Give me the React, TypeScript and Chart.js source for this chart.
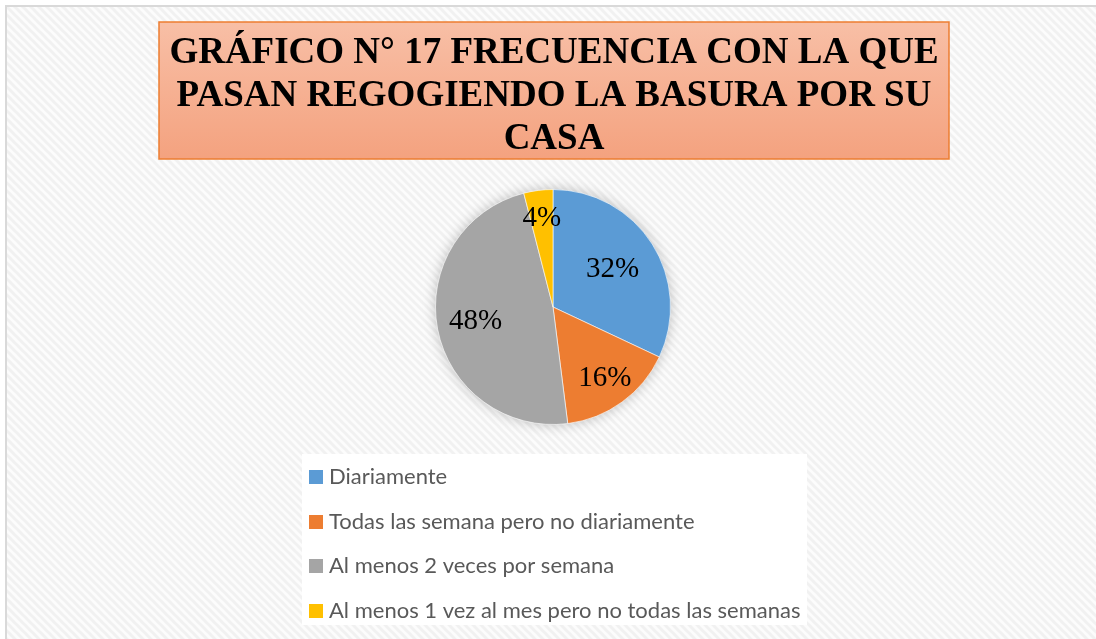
import React, { useEffect, useRef } from "react";
import { Chart, registerables } from "chart.js";

Chart.register(...registerables);

const categories = [
  "Diariamente",
  "Todas las semana pero no diariamente",
  "Al menos 2 veces por semana",
  "Al menos 1 vez al mes pero no todas las semanas",
];
const percentages = [32, 16, 48, 4];
const sliceColors = ["#5B9BD5", "#ED7D31", "#A5A5A5", "#FFC000"];
const titleLines = [
  "GRÁFICO N° 17 FRECUENCIA CON LA QUE",
  "PASAN REGOGIENDO LA BASURA POR SU",
  "CASA",
];
// style: radial position of each percentage label (fraction of radius)
const labelRadius = [0.6, 0.75, 0.67, 0.76];

const W = 1096;
const H = 639;

function makePattern(ctx: CanvasRenderingContext2D) {
  const c = document.createElement("canvas");
  c.width = 8;
  c.height = 8;
  const p = c.getContext("2d")!;
  p.fillStyle = "#fcfcfc";
  p.fillRect(0, 0, 8, 8);
  p.strokeStyle = "#f1f1f1";
  p.lineWidth = 3;
  for (let k = -1; k <= 1; k++) {
    p.beginPath();
    p.moveTo(k * 8 - 2, -2);
    p.lineTo(k * 8 + 10, 10);
    p.stroke();
  }
  return ctx.createPattern(c, "repeat");
}

const decorPlugin = {
  id: "decor",
  beforeDraw(chart: any) {
    const ctx: CanvasRenderingContext2D = chart.ctx;
    ctx.save();
    ctx.fillStyle = "#ffffff";
    ctx.fillRect(0, 0, W, H);
    const pat = makePattern(ctx);
    if (pat) ctx.fillStyle = pat;
    ctx.fillRect(7, 7, W - 7, H - 7);
    ctx.strokeStyle = "#d9d9d9";
    ctx.lineWidth = 2;
    ctx.beginPath();
    ctx.moveTo(6, H);
    ctx.lineTo(6, 6);
    ctx.lineTo(W, 6);
    ctx.stroke();

    // title box
    const bx = 159, by = 22, bw = 790, bh = 137;
    const g = ctx.createLinearGradient(0, by, 0, by + bh);
    g.addColorStop(0, "#F8BFA6");
    g.addColorStop(1, "#F4A27F");
    ctx.fillStyle = g;
    ctx.fillRect(bx, by, bw, bh);
    ctx.strokeStyle = "#ED7D31";
    ctx.lineWidth = 1.5;
    ctx.strokeRect(bx, by, bw, bh);
    ctx.fillStyle = "#000000";
    ctx.font = "bold 37px 'Liberation Serif', 'Times New Roman', serif";
    ctx.textAlign = "center";
    ctx.textBaseline = "alphabetic";
    const baselines = [63, 106, 149];
    titleLines.forEach((t, i) => ctx.fillText(t, 554, baselines[i]));

    // legend box
    ctx.fillStyle = "#ffffff";
    ctx.fillRect(302, 454, 505, 171);
    const rows = [477, 522, 566, 611];
    ctx.font = "22px Lato, 'Open Sans', sans-serif";
    ctx.textAlign = "left";
    ctx.textBaseline = "middle";
    chart.data.labels.forEach((lab: string, i: number) => {
      ctx.fillStyle = chart.data.datasets[0].backgroundColor[i];
      ctx.fillRect(309, rows[i] - 7, 14, 14);
      ctx.fillStyle = "#595959";
      ctx.fillText(lab, 329, rows[i]);
    });

    ctx.restore();
  },
  beforeDatasetsDraw(chart: any) {
    const meta = chart.getDatasetMeta(0);
    const arc = meta.data[0];
    if (!arc) return;
    const ctx: CanvasRenderingContext2D = chart.ctx;
    ctx.save();
    ctx.shadowColor = "rgba(0,0,0,0.28)";
    ctx.shadowBlur = 14;
    ctx.fillStyle = "#bbbbbb";
    ctx.beginPath();
    ctx.arc(arc.x, arc.y, arc.outerRadius - 1, 0, Math.PI * 2);
    ctx.fill();
    ctx.restore();
  },
  afterDatasetsDraw(chart: any) {
    const meta = chart.getDatasetMeta(0);
    const ctx: CanvasRenderingContext2D = chart.ctx;
    ctx.save();
    ctx.fillStyle = "#000000";
    ctx.font = "29px 'Liberation Serif', 'Times New Roman', serif";
    ctx.textAlign = "center";
    ctx.textBaseline = "middle";
    meta.data.forEach((a: any, i: number) => {
      const mid = (a.startAngle + a.endAngle) / 2;
      const r = a.outerRadius * labelRadius[i];
      const x = a.x + Math.cos(mid) * r;
      const y = a.y + Math.sin(mid) * r;
      ctx.fillText(percentages[i] + "%", x, y);
    });
    ctx.restore();
  },
};

export default function App() {
  const ref = useRef<HTMLCanvasElement>(null);
  useEffect(() => {
    document.body.style.margin = "0";
    const chart = new Chart(ref.current!, {
      type: "pie",
      data: {
        labels: categories,
        datasets: [
          {
            data: percentages,
            backgroundColor: sliceColors,
            borderColor: "rgba(255,255,255,0.6)",
            borderWidth: 1,
          },
        ],
      },
      options: {
        responsive: false,
        animation: false,
        layout: { padding: { left: 435, right: 425, top: 189, bottom: 214 } },
        plugins: {
          legend: { display: false },
          tooltip: { enabled: false },
          title: { display: false },
        },
      },
      plugins: [decorPlugin],
    });
    return () => chart.destroy();
  }, []);
  return (
    <div style={{ position: "absolute", left: 0, top: 0, width: W, height: H }}>
      <canvas ref={ref} width={W} height={H} />
    </div>
  );
}
